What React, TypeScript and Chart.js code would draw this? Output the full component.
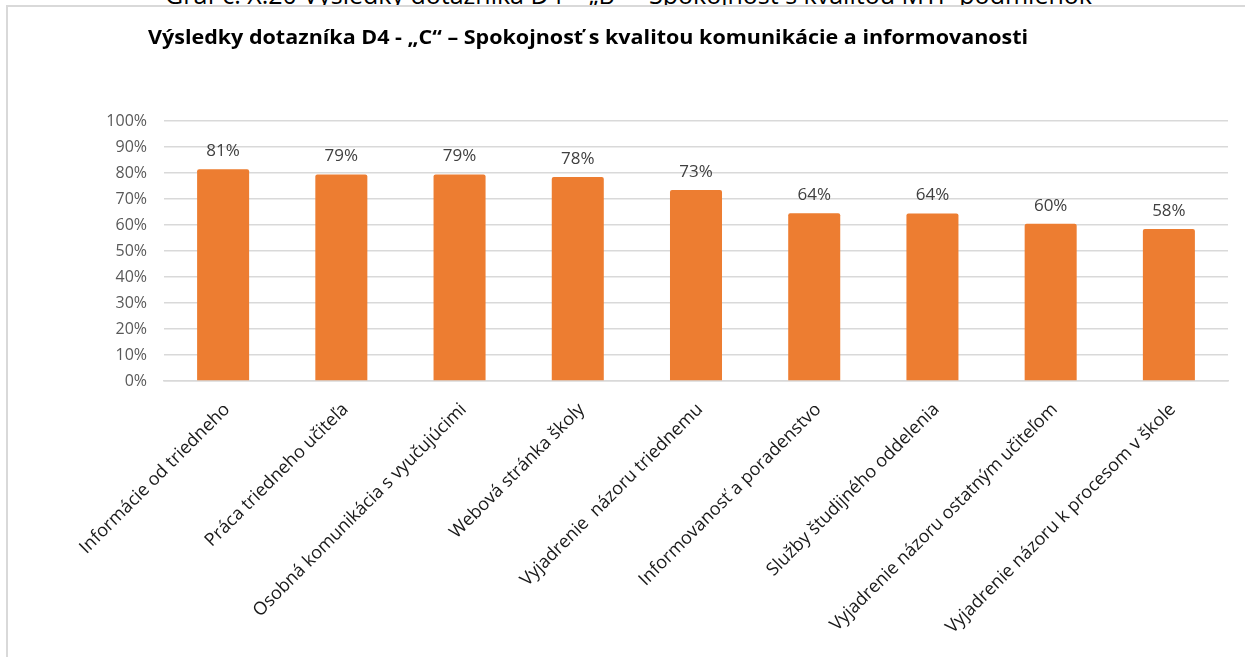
import React, { useEffect, useRef } from "react";
import { Chart, registerables } from "chart.js";

Chart.register(...registerables);

const captionText = "Graf č. X.20 Výsledky dotazníka D4 – „B“ – Spokojnosť s kvalitou MTP podmienok";
const chartTitle = "Výsledky dotazníka D4 - „C“ – Spokojnosť s kvalitou komunikácie a informovanosti";

const categories = [
  "Informácie od triedneho",
  "Práca triedneho učiteľa",
  "Osobná komunikácia s vyučujúcimi",
  "Webová stránka školy",
  "Vyjadrenie  názoru triednemu",
  "Informovanosť a poradenstvo",
  "Služby študijného oddelenia",
  "Vyjadrenie názoru ostatným učiteľom",
  "Vyjadrenie názoru k procesom v škole",
];

const values = [81.49, 79.45, 79.4, 78.49, 73.49, 64.49, 64.4, 60.49, 58.45];

const yMin = 0;
const yMax = 100;
const yStep = 10;

const FONT = "'Open Sans', sans-serif";

const valueLabels = {
  id: "valueLabels",
  afterDatasetsDraw(chart: any) {
    const ctx = chart.ctx;
    const meta = chart.getDatasetMeta(0);
    ctx.save();
    ctx.font = `17px ${FONT}`;
    ctx.fillStyle = "#404040";
    ctx.textAlign = "center";
    ctx.textBaseline = "middle";
    meta.data.forEach((bar: any, i: number) => {
      ctx.fillText(Math.round(values[i]) + "%", bar.x, bar.y - 18);
    });
    ctx.restore();
  },
};

export default function App() {
  const canvasRef = useRef<HTMLCanvasElement | null>(null);

  useEffect(() => {
    if (!canvasRef.current) return;
    const chart = new Chart(canvasRef.current, {
      type: "bar",
      data: {
        labels: categories,
        datasets: [
          {
            data: values,
            backgroundColor: "#ED7D31",
            borderRadius: 2,
            borderSkipped: "bottom",
            categoryPercentage: 1,
            barPercentage: 0.44,
          },
        ],
      },
      options: {
        responsive: false,
        animation: false,
        layout: { padding: { left: 0, right: 17, top: 121, bottom: 0 } },
        plugins: {
          legend: { display: false },
          tooltip: { enabled: false },
          title: { display: false },
        },
        scales: {
          x: {
            grid: { display: false },
            border: { color: "#d9d9d9", width: 1.5 },
            ticks: {
              autoSkip: false,
              minRotation: 45,
              maxRotation: 45,
              color: "#1a1a1a",
              font: { family: FONT, size: 18 },
              padding: 10,
              labelOffset: 4,
            },
            afterFit: (s: any) => {
              s.height = 276;
            },
          },
          y: {
            min: yMin,
            max: yMax,
            grid: { color: "#d9d9d9", lineWidth: 1.5, drawTicks: false },
            border: { display: false },
            ticks: {
              stepSize: yStep,
              padding: 17,
              color: "#595959",
              font: { family: FONT, size: 16 },
              callback: (v: any) => v + "%",
            },
            afterFit: (s: any) => {
              s.width = 164;
            },
          },
        },
      },
      plugins: [valueLabels],
    });
    return () => chart.destroy();
  }, []);

  return (
    <div
      style={{
        position: "absolute",
        left: 0,
        top: 0,
        width: 1245,
        height: 657,
        overflow: "hidden",
        background: "#fff",
        fontFamily: FONT,
      }}
    >
      <div
        style={{
          position: "absolute",
          left: 165,
          top: -18,
          fontSize: 25,
          lineHeight: "25px",
          whiteSpace: "nowrap",
          color: "#000",
        }}
      >
        {captionText}
      </div>
      <div
        style={{
          position: "absolute",
          left: 6,
          top: 5,
          width: 1300,
          height: 700,
          borderLeft: "2px solid #d9d9d9",
          borderTop: "2px solid #d9d9d9",
          boxSizing: "border-box",
          background: "#fff",
        }}
      />
      <canvas
        ref={canvasRef}
        width={1245}
        height={657}
        style={{ position: "absolute", left: 0, top: 0 }}
      />
      <div
        style={{
          position: "absolute",
          left: 148,
          top: 24,
          fontSize: 20,
          lineHeight: "26px",
          fontWeight: 700,
          whiteSpace: "nowrap",
          color: "#000",
          transform: "scaleX(1.075)",
          transformOrigin: "left center",
        }}
      >
        {chartTitle}
      </div>
    </div>
  );
}
